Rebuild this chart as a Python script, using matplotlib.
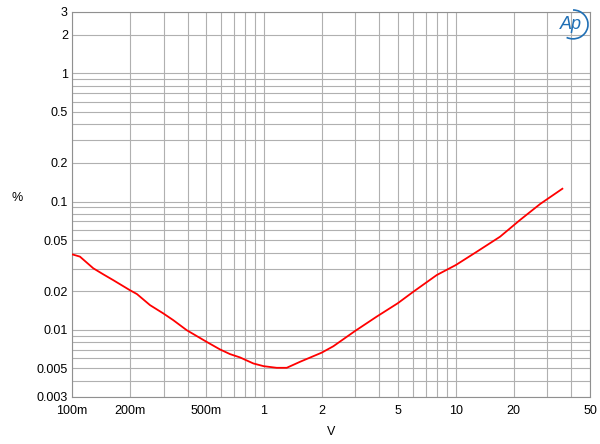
import numpy as np
import matplotlib
matplotlib.use('Agg')
import matplotlib.pyplot as plt
from matplotlib.patches import Arc

plt.rcParams['font.family'] = ['Liberation Sans', 'DejaVu Sans']

# level (V) vs THD+N (%)
volts = [0.100, 0.110, 0.129, 0.146, 0.164, 0.200, 0.218, 0.255, 0.299, 0.337,
         0.396, 0.503, 0.590, 0.666, 0.750, 0.881, 0.997, 1.166, 1.315, 1.54,
         2.0, 2.30, 2.98, 3.87, 4.98, 6.01, 7.95, 10.0, 12.85, 17.0, 21.6, 27.5, 35.9]
thd = [0.0388, 0.0372, 0.0302, 0.0270, 0.0244, 0.0204, 0.0190, 0.01558, 0.01343, 0.0119,
       0.00994, 0.00806, 0.00704, 0.00647, 0.00610, 0.00547, 0.00521, 0.00506, 0.00506, 0.00563,
       0.00664, 0.00745, 0.00978, 0.01268, 0.01611, 0.01983, 0.02672, 0.0320, 0.0406, 0.0532, 0.0718, 0.0957, 0.1258]

xticks = [0.1, 0.2, 0.5, 1, 2, 5, 10, 20, 50]
xlabels = ['100m', '200m', '500m', '1', '2', '5', '10', '20', '50']
yticks = [0.003, 0.005, 0.01, 0.02, 0.05, 0.1, 0.2, 0.5, 1, 2, 3]
ylabels = ['0.003', '0.005', '0.01', '0.02', '0.05', '0.1', '0.2', '0.5', '1', '2', '3']

fig = plt.figure(figsize=(6, 4.44), dpi=100)
ax = fig.add_axes([0.12, 0.106, 0.8633, 0.867])
ax.set_xscale('log')
ax.set_yscale('log')
ax.set_xlim(0.1, 50)
ax.set_ylim(0.003, 3)

ax.plot(volts, thd, color='#ff0000', lw=1.3, zorder=3)

ax.set_xticks(xticks)
ax.set_xticklabels(xlabels)
ax.set_yticks(yticks)
ax.set_yticklabels(ylabels)
ax.xaxis.set_minor_locator(matplotlib.ticker.LogLocator(base=10, subs=np.arange(2, 10)))
ax.yaxis.set_minor_locator(matplotlib.ticker.LogLocator(base=10, subs=np.arange(2, 10)))
ax.xaxis.set_minor_formatter(matplotlib.ticker.NullFormatter())
ax.yaxis.set_minor_formatter(matplotlib.ticker.NullFormatter())
ax.tick_params(which='both', length=0, labelsize=9)
ax.tick_params(axis='x', pad=6)
ax.tick_params(axis='y', pad=3)
ax.grid(which='both', color='#b0b0b0', lw=0.8)
for s in ax.spines.values():
    s.set_color('#909090')
    s.set_linewidth(0.8)

ax.set_xlabel('V', fontsize=9, labelpad=6)
ax.set_ylabel('%', fontsize=9, rotation=0, labelpad=0)
ax.yaxis.set_label_coords(-0.105, 0.5)

# Ap logo
fig.text(0.952, 0.945, 'Ap', color='#1f6fb5', fontsize=13, style='italic',
         ha='center', va='center')
fig.patches.append(Arc((0.955, 0.945), 0.05, 0.065, theta1=-110, theta2=90,
                       transform=fig.transFigure, color='#1f6fb5', lw=1.2))

fig.savefig('out.png', dpi=100)
